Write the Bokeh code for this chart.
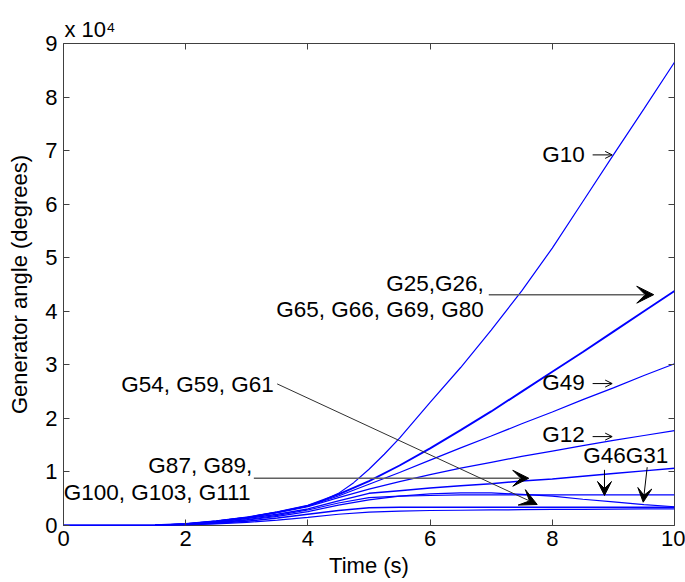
from bokeh.plotting import figure
from bokeh.models import Range1d, LinearAxis, Label, Arrow, VeeHead, OpenHead, FixedTicker
from bokeh.embed import file_html
from bokeh.resources import INLINE

# Time (s)
t = [0, 0.5, 1, 1.5, 2, 2.5, 3, 3.5, 4, 4.5, 5, 5.5, 6, 6.5, 7, 7.5, 8, 8.5, 9, 9.5, 10]
t_g10 = [0, 0.5, 1, 1.5, 2, 2.5, 3, 3.5, 4, 4.25, 4.5, 4.75, 5, 5.25, 5.5, 6, 6.5, 7, 7.5, 8, 8.5, 9, 9.5, 10]

# Generator angles, in units of 10^4 degrees
g10 = [0, 0, 0, 0.005, 0.03, 0.08, 0.15, 0.25, 0.37, 0.47, 0.6, 0.8, 1.05, 1.33, 1.63, 2.3, 2.95, 3.65, 4.38, 5.18, 6.05, 6.92, 7.78, 8.65]
g25_group = [0, 0, 0, 0.005, 0.03, 0.08, 0.15, 0.25, 0.37, 0.58, 0.83, 1.12, 1.44, 1.78, 2.13, 2.5, 2.87, 3.24, 3.62, 4.0, 4.38]
g49 = [0, 0, 0, 0.005, 0.03, 0.08, 0.15, 0.25, 0.36, 0.55, 0.77, 0.99, 1.22, 1.45, 1.67, 1.9, 2.12, 2.35, 2.57, 2.8, 3.02]
g12 = [0, 0, 0, 0.005, 0.028, 0.075, 0.14, 0.24, 0.35, 0.52, 0.68, 0.82, 0.95, 1.07, 1.18, 1.29, 1.39, 1.49, 1.59, 1.68, 1.77]
g87_group = [0, 0, 0, 0.004, 0.025, 0.065, 0.13, 0.21, 0.31, 0.46, 0.6, 0.65, 0.7, 0.74, 0.78, 0.83, 0.87, 0.92, 0.97, 1.02, 1.07]
g46 = [0, 0, 0, 0.004, 0.02, 0.055, 0.11, 0.19, 0.29, 0.42, 0.52, 0.55, 0.56, 0.57, 0.57, 0.57, 0.57, 0.57, 0.57, 0.57, 0.57]
g31 = [0, 0, 0, 0.004, 0.02, 0.05, 0.1, 0.17, 0.26, 0.38, 0.48, 0.55, 0.59, 0.61, 0.61, 0.58, 0.55, 0.49, 0.44, 0.39, 0.35]
g54_group = [0, 0, 0, 0.003, 0.015, 0.04, 0.08, 0.14, 0.21, 0.28, 0.33, 0.34, 0.34, 0.34, 0.34, 0.34, 0.34, 0.34, 0.34, 0.34, 0.34]
g_low = [0, 0, 0, 0.002, 0.01, 0.03, 0.06, 0.1, 0.15, 0.21, 0.25, 0.27, 0.28, 0.285, 0.29, 0.295, 0.3, 0.3, 0.305, 0.31, 0.31]

x_ticks = [0, 2, 4, 6, 8, 10]
y_ticks = [0, 1, 2, 3, 4, 5, 6, 7, 8, 9]

FONT = "Liberation Sans"
FS = "22px"
AFS = "22.5px"
AX = "#404040"

p = figure(width=685, height=582, x_range=Range1d(0, 10), y_range=Range1d(0, 9),
           output_backend="svg", toolbar_location=None,
           min_border_left=63, min_border_right=11, min_border_top=43, min_border_bottom=57)
p.background_fill_color = "white"
p.border_fill_color = "white"
p.outline_line_color = AX
p.outline_line_width = 1
p.xgrid.visible = False
p.ygrid.visible = False

# scale factor shown as the title, top-left
p.title.text = "x 10\u2074"
p.title.align = "left"
p.title.text_font = FONT
p.title.text_font_size = FS
p.title.text_font_style = "normal"
p.title.text_color = "black"
p.title.offset = 1
p.title.standoff = 4

p.line(t_g10, g10, line_color="#0000ff", line_width=1.2)
series = [(g25_group, 1.9), (g49, 1.2), (g12, 1.2), (g87_group, 1.5),
          (g46, 1.2), (g31, 1.2), (g54_group, 1.5), (g_low, 1.2)]
for ys, w in series:
    p.line(t, ys, line_color="#0000ff", line_width=w)

def style_axis(ax, show_labels):
    ax.axis_line_color = None
    ax.major_tick_line_color = AX
    ax.major_tick_in = 6
    ax.major_tick_out = 0
    ax.minor_tick_line_color = None
    ax.major_label_text_font = FONT
    if show_labels:
        ax.major_label_text_font_size = FS
        ax.major_label_text_color = "black"
    else:
        ax.major_label_text_font_size = "1px"
        ax.major_label_text_alpha = 0
        ax.major_label_text_color = None
        ax.major_label_standoff = 0
    ax.axis_label_text_font = FONT
    ax.axis_label_text_font_size = FS
    ax.axis_label_text_font_style = "normal"
    ax.axis_label_text_color = "black"

p.xaxis.ticker = FixedTicker(ticks=x_ticks)
p.yaxis.ticker = FixedTicker(ticks=y_ticks)
p.xaxis.axis_label = "Time (s)"
p.yaxis.axis_label = "Generator angle (degrees)"
style_axis(p.xaxis[0], True)
style_axis(p.yaxis[0], True)
p.xaxis.major_label_standoff = 5
p.yaxis.major_label_standoff = 6
p.xaxis.axis_label_standoff = 4
p.yaxis.axis_label_standoff = 10

top = LinearAxis(ticker=FixedTicker(ticks=x_ticks))
right = LinearAxis(ticker=FixedTicker(ticks=y_ticks))
style_axis(top, False)
style_axis(right, False)
p.add_layout(top, "above")
p.add_layout(right, "right")

def lab(x, y, s, align="left"):
    p.add_layout(Label(x=x, y=y, text=s, text_font=FONT, text_font_size=AFS,
                       text_align=align, text_baseline="middle", text_color="black"))

# labels with small open arrows
for name, yy, ya in [("G10", 6.935, 6.92), ("G49", 2.674, 2.65), ("G12", 1.692, 1.66)]:
    lab(7.835, yy, name)
    p.add_layout(Arrow(x_start=8.66, y_start=ya, x_end=8.98, y_end=ya,
                       line_color="black", line_width=1,
                       end=OpenHead(size=7, line_color="black", line_width=1)))

lab(6.88, 4.52, "G25,G26,", "right")
lab(6.88, 4.04, "G65, G66, G69, G80", "right")
p.add_layout(Arrow(x_start=6.96, y_start=4.31, x_end=9.66, y_end=4.31,
                   line_color="#606060", line_width=1.6,
                   end=VeeHead(size=17, fill_color="black", line_color="black")))

lab(3.088, 1.119, "G87, G89,", "right")
lab(3.06, 0.621, "G100, G103, G111", "right")
p.add_layout(Arrow(x_start=3.115, y_start=0.882, x_end=7.615, y_end=0.882,
                   line_color="#606060", line_width=1.6,
                   end=VeeHead(size=16, fill_color="black", line_color="black")))

lab(3.442, 2.637, "G54, G59, G61", "right")
p.add_layout(Arrow(x_start=3.497, y_start=2.644, x_end=7.753, y_end=0.392,
                   line_color="#303030", line_width=1,
                   end=VeeHead(size=17, fill_color="black", line_color="black")))

lab(8.506, 1.306, "G46G31")
p.add_layout(Arrow(x_start=8.854, y_start=1.039, x_end=8.854, y_end=0.56,
                   line_color="black", line_width=1,
                   end=VeeHead(size=14, fill_color="black", line_color="black")))
p.add_layout(Arrow(x_start=9.553, y_start=1.088, x_end=9.488, y_end=0.435,
                   line_color="black", line_width=1,
                   end=VeeHead(size=14, fill_color="black", line_color="black")))

open("out.html", "w").write(file_html(p, INLINE))
